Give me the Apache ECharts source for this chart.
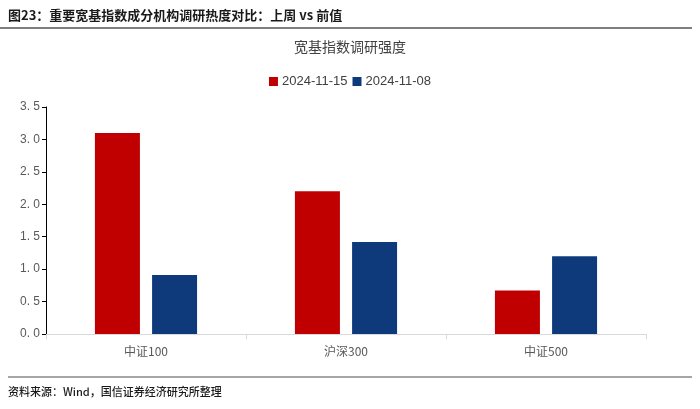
<!DOCTYPE html>
<html><head><meta charset="utf-8">
<script src="https://cdn.jsdelivr.net/npm/echarts@6/dist/echarts.min.js"></script>
<style>html,body{margin:0;padding:0;background:#fff}#c{width:700px;height:409px}</style>
</head><body><div id="c"></div>
<script>
const categories = ['中证100', '沪深300', '中证500'];
const seriesNames = ['2024-11-15', '2024-11-08'];
const values1115 = [3.10, 2.20, 0.67];
const values1108 = [0.91, 1.42, 1.20];
const yTicks = [0, 0.5, 1.0, 1.5, 2.0, 2.5, 3.0, 3.5];

const chart = echarts.init(document.getElementById('c'));
const font = '"Noto Sans CJK SC","Microsoft YaHei",sans-serif';
chart.setOption({
  animation: false,
  backgroundColor: '#fff',
  title: {
    text: '宽基指数调研强度', left: 'center', top: 35,
    textStyle: {fontSize: 14, fontWeight: 'normal', color: '#404040', fontFamily: font}
  },
  legend: {
    top: 70, left: 'center', itemWidth: 9, itemHeight: 9, itemGap: 5,
    icon: 'rect',
    textStyle: {fontSize: 13, color: '#404040', fontFamily: '"Liberation Sans", Arial, sans-serif', padding: [0, 0, 0, -1]},
    data: seriesNames
  },
  grid: {left: 46, right: 54, top: 107, bottom: 75},
  xAxis: {
    type: 'category', data: categories,
    axisLine: {lineStyle: {color: '#d9d9d9'}},
    axisTick: {show: true, length: 5, lineStyle: {color: '#d9d9d9'}},
    axisLabel: {fontSize: 12, color: '#595959', margin: 11, fontFamily: font}
  },
  yAxis: {
    type: 'value', min: yTicks[0], max: yTicks[yTicks.length - 1], interval: 0.5,
    axisLine: {show: true, lineStyle: {color: '#000'}},
    axisTick: {show: true, length: 4, lineStyle: {color: '#000'}},
    splitLine: {show: false},
    axisLabel: {fontSize: 12, color: '#595959', margin: 6,
      formatter: v => v.toFixed(1).replace('.', '. '),
      fontFamily: '"Liberation Sans", sans-serif'}
  },
  series: [
    {name: seriesNames[0], type: 'bar', data: values1115, barWidth: '22.5%', barGap: '27%',
     itemStyle: {color: '#C00000'}},
    {name: seriesNames[1], type: 'bar', data: values1108, barWidth: '22.5%',
     itemStyle: {color: '#0E3A7C'}}
  ],
  graphic: [
    {type: 'text', left: 8, top: 9, style: {text: '图23：重要宽基指数成分机构调研热度对比：上周 vs 前值',
      font: 'bold 13px ' + font, fill: '#1a1a1a'}},
    {type: 'line', shape: {x1: 0, y1: 28, x2: 692, y2: 28}, style: {stroke: '#555', lineWidth: 1.5}},
    {type: 'line', shape: {x1: 8, y1: 377, x2: 692, y2: 377}, style: {stroke: '#888', lineWidth: 1.5}},
    {type: 'text', left: 8, top: 386, style: {text: '资料来源：Wind，国信证券经济研究所整理',
      font: '500 11px ' + font, fill: '#1a1a1a'}}
  ]
});
</script></body></html>
